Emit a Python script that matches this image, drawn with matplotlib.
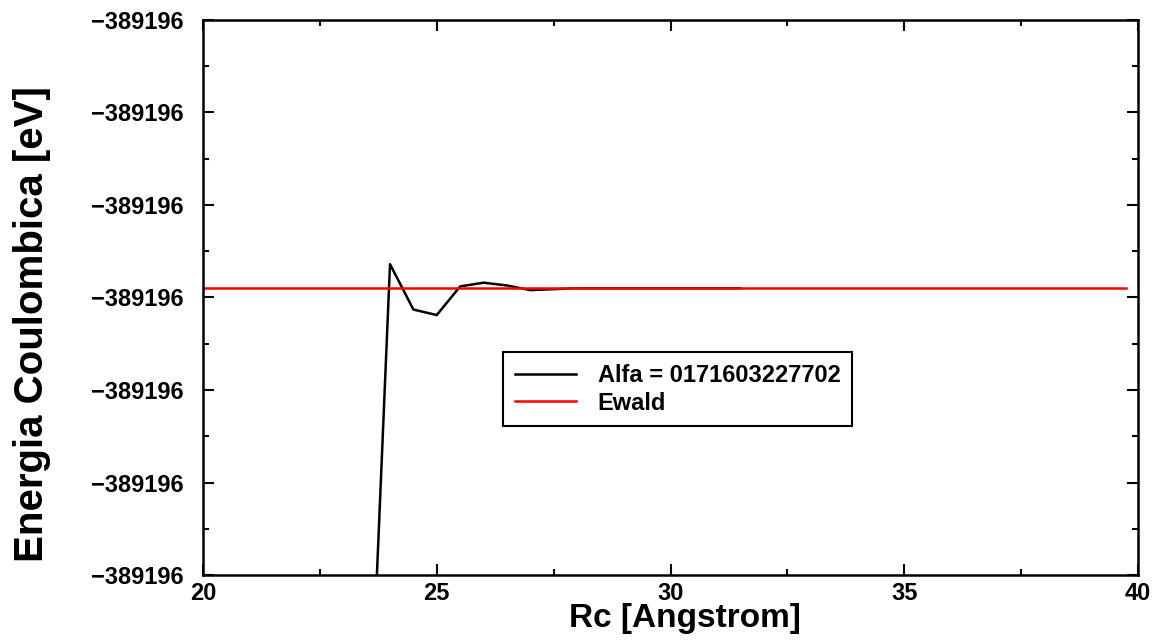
import matplotlib
matplotlib.use("Agg")
import matplotlib.pyplot as plt
from matplotlib.ticker import MultipleLocator, FuncFormatter

# Coulomb energy vs cutoff radius
rc     = [23.5, 24.0, 24.5, 25.0, 25.5, 26.0, 26.5, 27.0, 27.5, 28.0, 28.5, 29.0,
          29.5, 30.0, 30.5, 31.0, 31.5]
energy = [-389196.563, -389195.964, -389196.013, -389196.019, -389195.988,
          -389195.984, -389195.987, -389195.992, -389195.991, -389195.990,
          -389195.990, -389195.990, -389195.990, -389195.990, -389195.990,
          -389195.990, -389195.990]

ewald_x = [20.0, 39.75]
ewald_y = [-389195.990, -389195.990]

alfa_label  = "Alfa = 0171603227702"
ewald_label = "Ewald"

plt.rcParams["font.family"] = ["Liberation Sans", "DejaVu Sans"]
plt.rcParams["font.weight"] = "bold"

fig = plt.figure(figsize=(11.64, 6.44), dpi=100)
ax = fig.add_axes([0.1744, 0.1071, 0.8033, 0.8619])

ax.plot(rc, energy, color="black", lw=1.8, label=alfa_label)
ax.plot(ewald_x, ewald_y, color="red", lw=1.8, label=ewald_label)

ax.set_xlim(20, 40)
ax.set_ylim(-389196.3, -389195.7)

ax.xaxis.set_major_locator(MultipleLocator(5))
ax.xaxis.set_minor_locator(MultipleLocator(2.5))
ax.yaxis.set_major_locator(MultipleLocator(0.1))
ax.yaxis.set_minor_locator(MultipleLocator(0.05))
ax.yaxis.set_major_formatter(FuncFormatter(lambda v, p: "\u2212%d" % round(abs(v))))

ax.tick_params(which="both", direction="in", top=True, right=True, width=1.5)
ax.tick_params(which="major", length=8, labelsize=17)
ax.tick_params(which="minor", length=4)
ax.tick_params(axis="y", pad=14)
ax.tick_params(axis="x", pad=5)
for lab in ax.get_xticklabels() + ax.get_yticklabels():
    lab.set_fontweight("bold")
for s in ax.spines.values():
    s.set_linewidth(1.8)

ax.set_xlabel("Rc [Angstrom]", fontsize=24, fontweight="bold")
ax.xaxis.set_label_coords(0.5155, -0.05)
ax.set_ylabel("Energia Coulombica [eV]", fontsize=29, fontweight="bold")
ax.yaxis.set_label_coords(-0.163, 0.452)

leg = ax.legend(loc="upper left", bbox_to_anchor=(0.3209, 0.4018), fontsize=17,
                frameon=True, fancybox=False, edgecolor="black", framealpha=1,
                handlelength=2.6, borderpad=0.5, labelspacing=0.2,
                handletextpad=0.9, borderaxespad=0)
leg.get_frame().set_linewidth(1.5)
for t in leg.get_texts():
    t.set_fontweight("bold")

fig.savefig("out.png", dpi=100)
